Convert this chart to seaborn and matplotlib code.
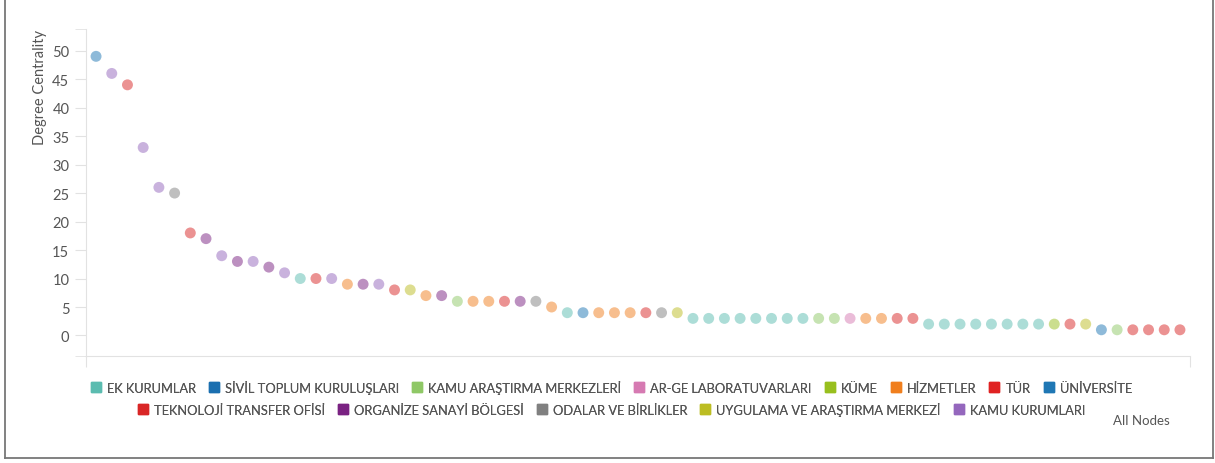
import matplotlib
matplotlib.use('Agg')
import matplotlib.pyplot as plt
from matplotlib.lines import Line2D
import pandas as pd
import seaborn as sns

# categorias y colores de la leyenda
categorias = ['EK KURUMLAR', 'SİVİL TOPLUM KURULUŞLARI', 'KAMU ARAŞTIRMA MERKEZLERİ',
              'AR-GE LABORATUVARLARI', 'KÜME', 'HİZMETLER', 'TÜR', 'ÜNİVERSİTE',
              'TEKNOLOJİ TRANSFER OFİSİ', 'ORGANİZE SANAYİ BÖLGESİ', 'ODALAR VE BİRLİKLER',
              'UYGULAMA VE ARAŞTIRMA MERKEZİ', 'KAMU KURUMLARI']
colores = ['#5bbcb0', '#1a6fb0', '#8fc866', '#d67ab2', '#98bf1e', '#f07f1e', '#e02222',
           '#1f77b4', '#d92626', '#7a2282', '#808080', '#bcbd22', '#9467bd']

EK, UNI, KAM, ARGE, KUME, HIZ, TTO, OSB, ODA, UYG, KK = (
    'EK KURUMLAR', 'ÜNİVERSİTE', 'KAMU ARAŞTIRMA MERKEZLERİ', 'AR-GE LABORATUVARLARI',
    'KÜME', 'HİZMETLER', 'TEKNOLOJİ TRANSFER OFİSİ', 'ORGANİZE SANAYİ BÖLGESİ',
    'ODALAR VE BİRLİKLER', 'UYGULAMA VE ARAŞTIRMA MERKEZİ', 'KAMU KURUMLARI')

# nodos ordenados por grado
grados = [49, 46, 44, 33, 26, 25, 18, 17, 14, 13, 13, 12, 11, 10, 10, 10, 9, 9, 9, 8,
          8, 7, 7, 6, 6, 6, 6, 6, 6, 5, 4, 4, 4, 4, 4, 4, 4, 4, 3, 3,
          3, 3, 3, 3, 3, 3, 3, 3, 3, 3, 3, 3, 3, 2, 2, 2, 2, 2, 2, 2,
          2, 2, 2, 2, 1, 1, 1, 1, 1, 1]
tipos = [UNI, KK, TTO, KK, KK, ODA, TTO, OSB, KK, OSB, KK, OSB, KK, EK, TTO, KK, HIZ, OSB, KK, TTO,
         UYG, HIZ, OSB, KAM, HIZ, HIZ, TTO, OSB, ODA, HIZ, EK, UNI, HIZ, HIZ, HIZ, TTO, ODA, UYG, EK, EK,
         EK, EK, EK, EK, EK, EK, KAM, KAM, ARGE, HIZ, HIZ, TTO, TTO, EK, EK, EK, EK, EK, EK, EK,
         EK, KUME, TTO, UYG, UNI, KAM, TTO, TTO, TTO, TTO]

datos = pd.DataFrame({'nodo': range(len(grados)), 'grado': grados, 'tipo': tipos})
paleta = dict(zip(categorias, colores))

fig = plt.figure(figsize=(12.15, 4.64), dpi=100)
ax = fig.add_axes([86 / 1215, 1 - 357 / 464, (1190 - 86) / 1215, (357 - 30) / 464])

sns.scatterplot(data=datos, x='nodo', y='grado', hue='tipo', palette=paleta,
                s=62, alpha=0.5, linewidth=0, legend=False, ax=ax)

ax.set_xlim(-0.64, 69.64)
ax.set_ylim(-3.6, 53.8)
ax.set_yticks(range(0, 51, 5))
ax.set_yticks([-3.6, 53.8], minor=True)
ax.set_xticks([-0.64, 69.64])
ax.set_xticklabels([])
ax.tick_params(axis='y', which='both', length=8, color='#e2e2e2', labelsize=10.5,
               labelcolor='#555555', pad=4)
ax.tick_params(axis='x', length=8, color='#e2e2e2')
for lado in ['top', 'right']:
    ax.spines[lado].set_visible(False)
for lado in ['left', 'bottom']:
    ax.spines[lado].set_color('#e2e2e2')
for etiqueta in ax.get_yticklabels():
    etiqueta.set_fontfamily('Lato')
ax.set_xlabel('')
ax.set_ylabel('Degree Centrality', loc='top', fontsize=10.5, color='#555555',
              fontfamily='Lato', labelpad=4)

# leyenda en dos filas centradas
def manejadores(nombres):
    return [Line2D([], [], marker='s', linestyle='', markersize=7.3,
                   color=paleta[n]) for n in nombres]

fila1 = categorias[:8]
fila2 = categorias[8:]
for nombres, y in [(fila1, 1 - 388 / 464), (fila2, 1 - 410 / 464)]:
    ley = fig.legend(manejadores(nombres), nombres, loc='center', bbox_to_anchor=(0.503, y),
                     ncol=len(nombres), frameon=False, handletextpad=0.45, columnspacing=1.0,
                     prop={'family': 'Lato', 'size': 9.3}, labelcolor='#555555',
                     handlelength=0.8, borderaxespad=0)
    fig.add_artist(ley)

fig.text(1141 / 1215, 1 - 421 / 464, 'All Nodes', ha='center', va='center',
         fontsize=9.5, color='#555555', fontfamily='Lato')

# marco exterior
for xs, ys in [([5 / 1215, 5 / 1215], [1, 1 - 459 / 464]),
               ([1213 / 1215, 1213 / 1215], [1, 1 - 459 / 464]),
               ([5 / 1215, 1213 / 1215], [1 - 459 / 464, 1 - 459 / 464])]:
    fig.add_artist(Line2D(xs, ys, color='#777777', linewidth=1.3, transform=fig.transFigure))

fig.savefig('out.png', dpi=100)
